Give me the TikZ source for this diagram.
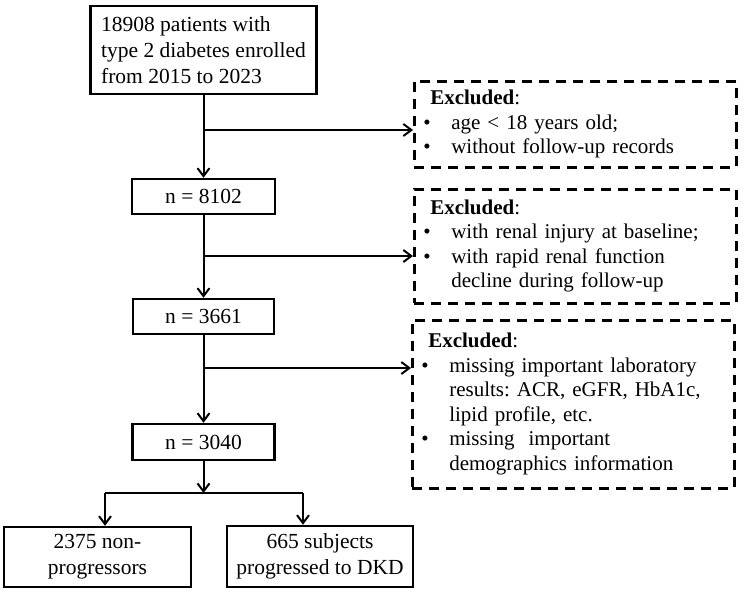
\documentclass[tikz,border=0pt]{standalone}
\usepackage{fontspec}
\setmainfont{Liberation Serif}
\usetikzlibrary{arrows.meta,positioning}
\frenchspacing

\begin{document}
\begin{tikzpicture}
	[x=1pt,y=-1pt,
	main node/.style={shape=rectangle,draw,line width=2.4pt,fill=white,inner sep=0pt,font=\fontsize{21.5}{26}\selectfont},
	excl node/.style={shape=rectangle,draw,line width=2.6pt,dash pattern=on 10pt off 7pt,anchor=north west,inner xsep=9pt,inner ysep=0pt,text width=304pt,align=left,font=\fontsize{21}{24.5}\selectfont},
	arr/.style={line width=2pt,-{Straight Barb[length=8pt,width=12pt]}}
	]
	
	\useasboundingbox (0,0) rectangle (744,592);

	\node [main node,minimum width=226pt,minimum height=88pt,align=left] (all) at (203.5,50) {18908 patients with\\type 2 diabetes enrolled\\from 2015 to 2023};
	\node [main node,minimum width=143pt,minimum height=35pt] (n1) at (203.5,196.5) {n = 8102};
	\node [main node,minimum width=141pt,minimum height=35pt] (n2) at (203.5,316.5) {n = 3661};
	\node [main node,minimum width=142pt,minimum height=36pt] (n3) at (203.5,442) {n = 3040};
	\node [main node,minimum width=187pt,minimum height=60pt,align=center] (non) at (97.5,557) {2375 non-\\progressors};
	\node [main node,minimum width=186pt,minimum height=61pt,align=center] (dkd) at (320,556.5) {665 subjects\\progressed to DKD};
	
	\node [excl node,minimum height=86pt] (ex1) at (413,80) {%
		\begin{tabular}{@{}p{28pt}@{}l@{}}
		\multicolumn{2}{@{}l@{}}{\hspace*{7pt}\textbf{Excluded}:}\\
		\textbullet & age < 18 years old;\\
		\textbullet & without follow-up records
		\end{tabular}};
	\node [excl node,minimum height=114pt] (ex2) at (413,188) {%
		\begin{tabular}{@{}p{28pt}@{}l@{}}
		\multicolumn{2}{@{}l@{}}{\hspace*{7pt}\textbf{Excluded}:}\\
		\textbullet & with renal injury at baseline;\\
		\textbullet & with rapid renal function\\
		 & decline during follow-up
		\end{tabular}};
	\node [excl node,minimum height=168pt] (ex3) at (411,319) {%
		\begin{tabular}{@{}p{28pt}@{}l@{}}
		\multicolumn{2}{@{}l@{}}{\hspace*{7pt}\textbf{Excluded}:}\\
		\textbullet & missing important laboratory\\
		 & results: ACR, eGFR, HbA1c,\\
		 & lipid profile, etc.\\
		\textbullet & missing\ \ important\\
		 & demographics information
		\end{tabular}};
	
	\coordinate (b1) at (203.5,130);
	\coordinate (b2) at (203.5,256);
	\coordinate (b3) at (203.5,368);
	\coordinate (s) at (203.5,493);
	\coordinate (sl) at (105,493);
	\coordinate (sr) at (303,493);
	  
	\path[arr]
	(all) edge (n1)
	(n1) edge (n2)
	(n2) edge (n3)
	(n3) edge (s)
	(b1) edge (b1 -| ex1.west)
	(b2) edge (b2 -| ex2.west)
	(b3) edge (b3 -| ex3.west)
	(sl) edge (sl |- non.north)
	(sr) edge (sr |- dkd.north)
	;
	\draw[line width=2pt] (sl) -- (sr);
	
	\end{tikzpicture}
\end{document}
